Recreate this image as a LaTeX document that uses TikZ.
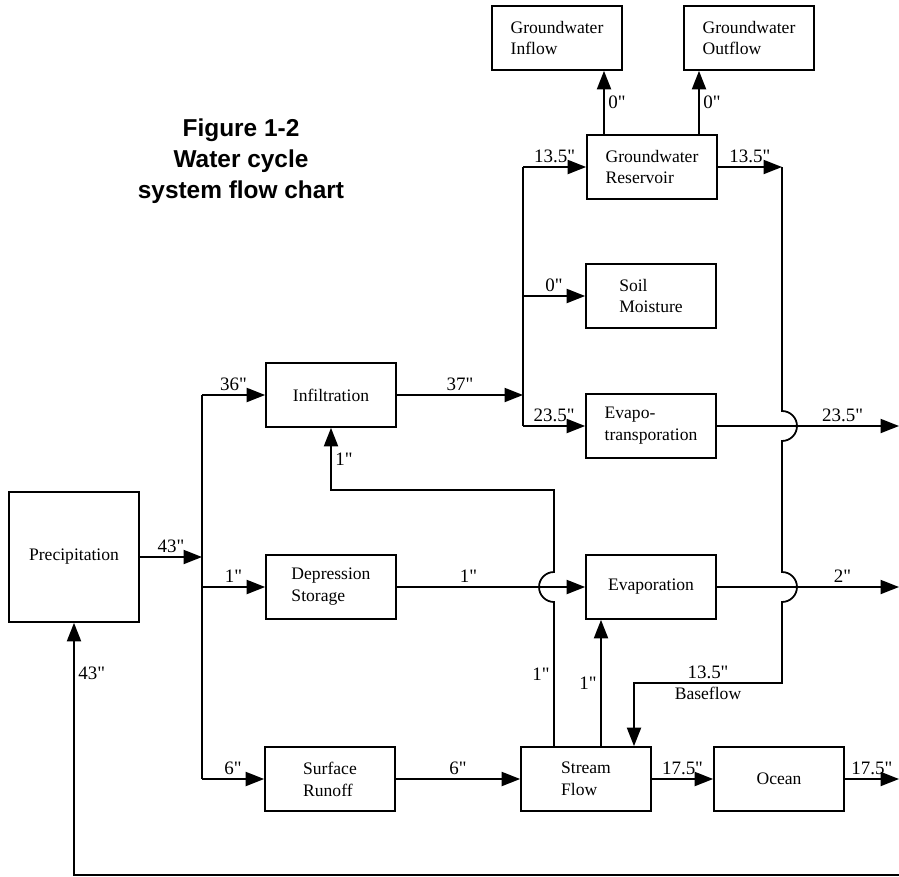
\documentclass[tikz,border=0pt]{standalone}
\usepackage{fontspec}
\setmainfont{Liberation Serif}[Ligatures=TeXOff]
\newfontfamily\headfont{Liberation Sans}
\usetikzlibrary{arrows.meta,calc}

\begin{document}
\begin{tikzpicture}[x=0.02cm, y=-0.02cm,
    box/.style={rectangle, draw, line width=1pt, minimum width=2.6cm, minimum height=1.28cm,
                inner sep=2pt, align=left, font=\fontsize{10}{12.5}\selectfont},
    arr/.style={-{Triangle[length=10.5pt, width=8pt]}, line width=1pt},
    ln/.style={line width=1pt},
    lbl/.style={font=\fontsize{10.8}{12}\selectfont, inner sep=2pt}]

    \useasboundingbox (0,0) rectangle (899,876);

    % Title
    \node[font=\headfont\bfseries\fontsize{13.9}{17.6}\selectfont, align=center] (title)
      at (241,161) {Figure 1-2\\Water cycle\\system flow chart};

    % Boxes
    \node[box, minimum height=2.6cm] (prec) at (74,557) {Precipitation};
    \node[box] (infil) at (331,395) {Infiltration};
    \node[box] (dep) at (331,587) {Depression\\Storage};
    \node[box] (runoff) at (330,779) {Surface\\Runoff};
    \node[box] (stream) at (586,779) {Stream\\Flow};
    \node[box] (ocean) at (779,779) {Ocean};
    \node[box] (gwin) at (557,38) {Groundwater\\Inflow};
    \node[box] (gwout) at (749,38) {Groundwater\\Outflow};
    \node[box] (gwres) at (652,167) {Groundwater\\Reservoir};
    \node[box] (soil) at (651,296) {Soil\\Moisture};
    \node[box] (evapotr) at (651,426) {Evapo-\\transporation};
    \node[box] (evap) at (651,587) {Evaporation};

    % Precipitation split
    \coordinate (split) at (202,0);
    \draw[arr] (prec) -- node[lbl, above] {43"} (prec -| split);
    \draw[ln] (split |- infil) -- (split |- runoff);
    \draw[arr] (split |- infil) -- node[lbl, above] {36"} (infil);
    \draw[arr] (split |- dep) -- node[lbl, above] {1"} (dep);
    \draw[arr] (split |- runoff) -- node[lbl, above] {6"} (runoff);

    % Groundwater riser
    \coordinate (gwsplit) at (523,0);
    \draw[arr] (infil) -- node[lbl, above] {37"} (infil -| gwsplit);
    \draw[ln] (gwsplit |- gwres) -- (gwsplit |- evapotr);
    \draw[arr] (gwsplit |- gwres) -- node[lbl, above] {13.5"} (gwres);
    \draw[arr] (gwsplit |- soil) -- node[lbl, above] {0"} (soil);
    \draw[arr] (gwsplit |- evapotr) -- node[lbl, above] {23.5"} (evapotr);

    % Groundwater in/out
    \coordinate (inlet) at (604,0);
    \coordinate (outlet) at (699,0);
    \draw[arr] (inlet |- gwres.north) -- node[lbl, right] {0"} (inlet |- gwin.south);
    \draw[arr] (outlet |- gwres.north) -- node[lbl, right] {0"} (outlet |- gwout.south);

    % Baseflow return
    \coordinate (gwret) at (782,0);
    \coordinate (bflow) at (634,683);
    \draw[arr] (gwres) -- node[lbl, above] {13.5"} (gwres -| gwret);
    \draw[arr] (gwres -| gwret) -- ($(gwret |- evapotr)+(0,-15)$)
      arc[start angle=90, end angle=-90, radius=0.3cm]
      -- ($(gwret |- evap)+(0,-15)$)
      arc[start angle=90, end angle=-90, radius=0.3cm]
      -- (gwret |- bflow)
      -- node[lbl, above] {13.5"} node[lbl, below, font=\fontsize{10}{12}\selectfont] {Baseflow} (bflow)
      -- (bflow |- stream.north);

    % Stream back to infiltration
    \coordinate (loop) at (554,490);
    \draw[arr] (loop |- stream.north) -- node[lbl, left] {1"} ($(loop |- dep)+(0,15)$)
      arc[start angle=-90, end angle=-270, radius=0.3cm]
      -- (loop) -- (loop -| infil) -- node[lbl, right] {1"} (infil);

    % Stream to evaporation
    \coordinate (rise) at (601,0);
    \draw[arr] (rise |- stream.north) -- node[lbl, left] {1"} (rise |- evap.south);

    % Depression to evaporation
    \draw[arr] (dep) -- node[lbl, pos=0.38, above] {1"} (evap);

    % Outflows
    \coordinate (edge) at (899,0);
    \draw[arr] (evapotr) -- node[lbl, pos=0.69, above] {23.5"} (evapotr -| edge);
    \draw[arr] (evap) -- node[lbl, pos=0.69, above] {2"} (evap -| edge);
    \draw[arr] (runoff) -- node[lbl, above] {6"} (stream);
    \draw[arr] (stream) -- node[lbl, above] {17.5"} (ocean);
    \draw[arr] (ocean) -- node[lbl, above] {17.5"} (ocean -| edge);

    % Return to precipitation
    \coordinate (ret) at (899,875);
    \draw[arr] (ret) -- (ret -| prec) -- node[lbl, pos=0.8, right] {43"} (prec);

  \end{tikzpicture}
\end{document}
